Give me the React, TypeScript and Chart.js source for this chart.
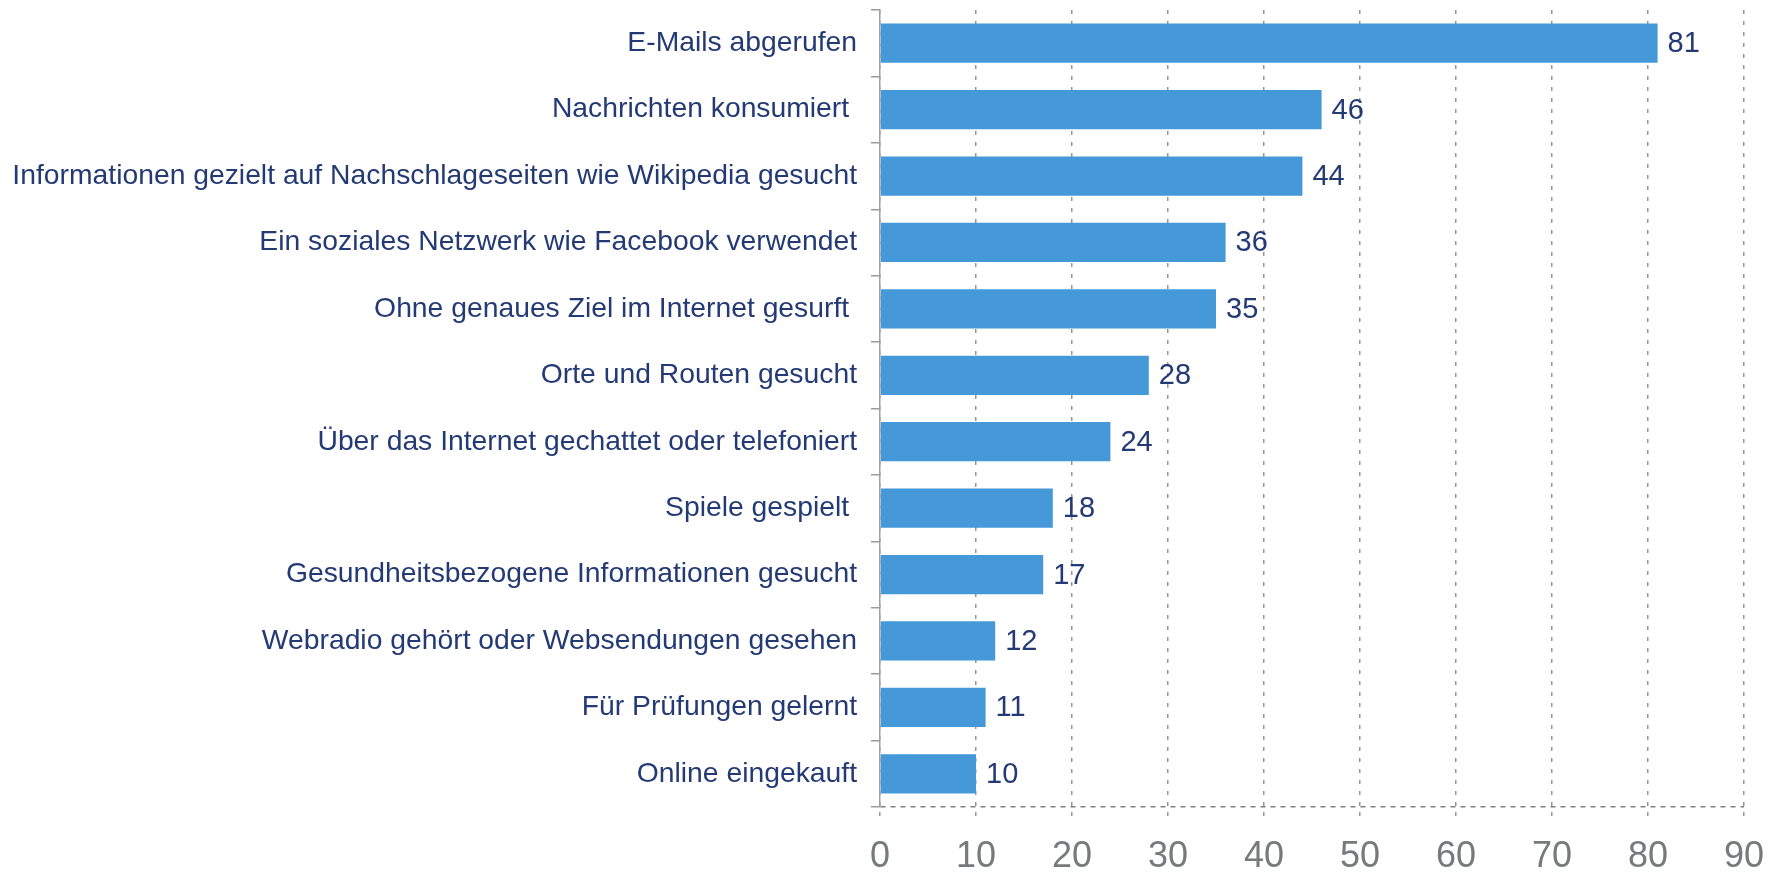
import React, { useEffect, useRef } from "react";
import { Chart, registerables } from "chart.js";

Chart.register(...registerables);

const categories = [
  "E-Mails abgerufen",
  "Nachrichten konsumiert ",
  "Informationen gezielt auf Nachschlageseiten wie Wikipedia gesucht",
  "Ein soziales Netzwerk wie Facebook verwendet",
  "Ohne genaues Ziel im Internet gesurft ",
  "Orte und Routen gesucht",
  "Über das Internet gechattet oder telefoniert",
  "Spiele gespielt ",
  "Gesundheitsbezogene Informationen gesucht",
  "Webradio gehört oder Websendungen gesehen",
  "Für Prüfungen gelernt",
  "Online eingekauft",
];

const values = [81, 46, 44, 36, 35, 28, 24, 18, 17, 12, 11, 10];

const xTicks = [0, 10, 20, 30, 40, 50, 60, 70, 80, 90];

const FONT = "'Liberation Sans', Arial, Helvetica, sans-serif";
const NAVY = "#243a75";
const BAR = "#4599d9";
const GRID = "#959595";

const valueLabels = {
  id: "valueLabels",
  afterDatasetsDraw(chart: any) {
    const ctx = chart.ctx;
    const meta = chart.getDatasetMeta(0);
    ctx.save();
    ctx.font = `29px ${FONT}`;
    ctx.fillStyle = NAVY;
    ctx.textAlign = "left";
    ctx.textBaseline = "middle";
    meta.data.forEach((el: any, i: number) => {
      ctx.fillText(String(values[i]), el.x + 10, el.y + 1);
    });
    ctx.restore();
  },
};

export default function App() {
  const ref = useRef<HTMLCanvasElement | null>(null);

  useEffect(() => {
    if (!ref.current) return;
    const chart = new Chart(ref.current, {
      type: "bar",
      data: {
        labels: categories,
        datasets: [
          {
            data: values,
            backgroundColor: BAR,
            borderWidth: 0,
            categoryPercentage: 1,
            barPercentage: 0.59,
          },
        ],
      },
      options: {
        indexAxis: "y",
        animation: false,
        responsive: true,
        maintainAspectRatio: false,
        layout: { padding: { top: 10, left: 10, right: 25, bottom: 0 } },
        plugins: {
          legend: { display: false },
          tooltip: { enabled: false },
        },
        scales: {
          x: {
            type: "linear",
            min: 0,
            max: 90,
            afterBuildTicks: (scale: any) => {
              scale.ticks = xTicks.map((v) => ({ value: v }));
            },
            afterFit: (scale: any) => {
              scale.height = 66;
              scale.paddingLeft = 0;
              scale.paddingRight = 0;
            },
            grid: {
              color: GRID,
              lineWidth: 1.5,
              drawTicks: true,
              tickLength: 10,
              tickColor: GRID,
              tickBorderDash: [4, 7],
              tickBorderDashOffset: 6,
            },
            border: { display: false, dash: [4, 7] },
            ticks: {
              color: "#777a7d",
              font: { family: FONT, size: 36 },
              padding: 18,
              maxRotation: 0,
            },
          },
          y: {
            type: "category",
            afterFit: (scale: any) => {
              scale.width = 870;
              scale.paddingTop = 0;
              scale.paddingBottom = 0;
            },
            grid: {
              offset: true,
              drawOnChartArea: true,
              color: (ctx: any) => (ctx.type === "scale" ? "#808080" : "rgba(0,0,0,0)"),
              lineWidth: 1.5,
              drawTicks: true,
              tickLength: 9,
              tickColor: "#9a9a9a",
              tickWidth: 1.5,
            },
            border: { display: true, color: "#a0a0a0", width: 1.5, dash: [5, 5] },
            ticks: {
              color: NAVY,
              font: { family: FONT, size: 28.3 },
              padding: 14,
              autoSkip: false,
            },
          },
        },
      },
      plugins: [valueLabels],
    });
    return () => chart.destroy();
  }, []);

  return (
    <div style={{ position: "absolute", left: 0, top: 0, width: 1769, height: 873 }}>
      <canvas ref={ref} />
    </div>
  );
}
